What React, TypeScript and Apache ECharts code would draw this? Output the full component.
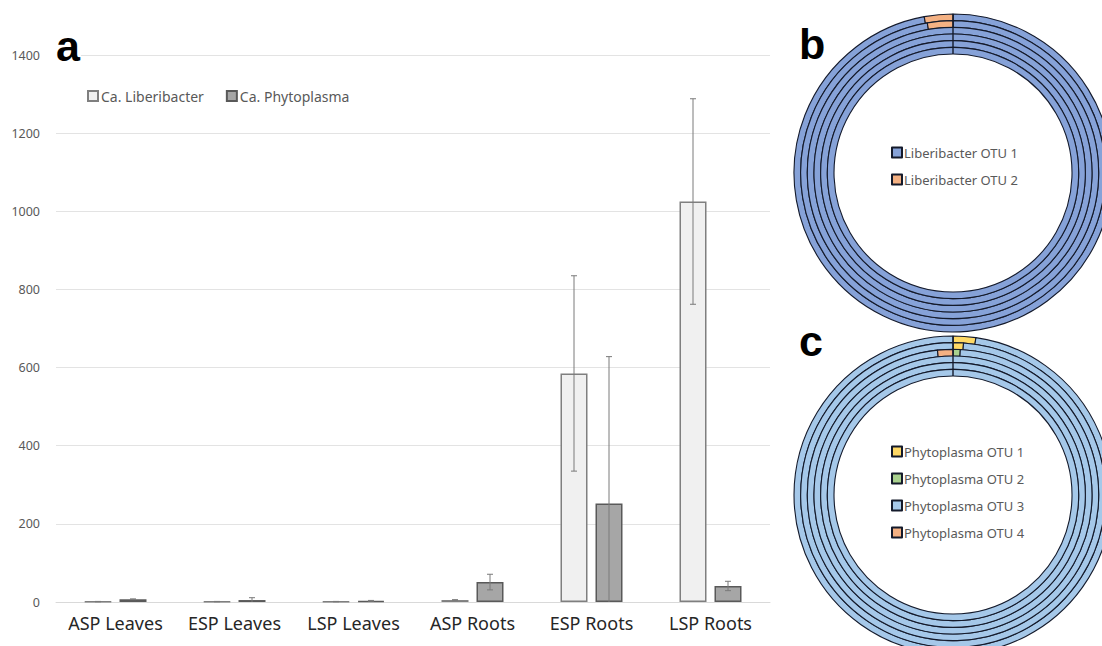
import React, { useEffect, useRef } from "react";
import * as echarts from "echarts";

// Panel a: mean read counts per sample group
const categories = ["ASP Leaves", "ESP Leaves", "LSP Leaves", "ASP Roots", "ESP Roots", "LSP Roots"];
const liberibacter = [1, 1, 1, 5, 585, 1025];
const liberibacterErr = [0.5, 0.5, 0.5, 1, 250, 263];
const phytoplasma = [7, 5, 3, 51, 252, 41];
const phytoplasmaErr = [1, 6, 1, 20, 376, 12];
const yMax = 1400;
const yInterval = 200;

// Panel b: OTU shares (%) per ring, outermost ring first
const libOtuNames = ["Liberibacter OTU 1", "Liberibacter OTU 2"];
const libRings = [
  [97.1, 2.9],
  [97.3, 2.7],
  [100, 0],
  [100, 0],
  [100, 0],
  [100, 0],
];

// Panel c: OTU shares (%) per ring, outermost ring first
const phyOtuNames = ["Phytoplasma OTU 1", "Phytoplasma OTU 2", "Phytoplasma OTU 3", "Phytoplasma OTU 4"];
const phyRings = [
  [2.3, 0, 97.7, 0],
  [1.1, 0, 98.9, 0],
  [0, 0.8, 97.5, 1.7],
  [0, 0, 100, 0],
  [0, 0, 100, 0],
  [0, 0, 100, 0],
];

const FONT = "Noto Sans";
const libColors = ["#86a2d8", "#f4b183"];
const phyColors = ["#ffd966", "#a9d18e", "#a5c8e9", "#f4b183"];
const ringBorder = "#141a2b";

const BAR_W = 27;
const BAR_GAP = 8;

function donut(center: number[], names: string[], colors: string[], rings: number[][]) {
  const outer = 159;
  const inner = 119;
  const step = (outer - inner) / rings.length;
  return rings.map((ring, k) => ({
    type: "pie",
    silent: true,
    center,
    radius: [outer - (k + 1) * step, outer - k * step],
    startAngle: 90,
    clockwise: true,
    avoidLabelOverlap: false,
    label: { show: false },
    labelLine: { show: false },
    emphasis: { disabled: true },
    itemStyle: { borderColor: ringBorder, borderWidth: 1.1 },
    data: ring
      .map((v, i) => ({ name: names[i], value: v, itemStyle: { color: colors[i] } }))
      .filter((d) => d.value > 0),
  }));
}

function errorSeries(values: number[], errs: number[], offset: number, color: string) {
  return {
    type: "custom",
    silent: true,
    z: 5,
    data: values.map((v, i) => [i, Math.max(0, v - errs[i]), v + errs[i], v - errs[i] >= 0 ? 1 : 0]),
    encode: { x: 0, y: [1, 2] },
    renderItem: (_params: any, api: any) => {
      const i = api.value(0);
      const lo = api.coord([i, api.value(1)]);
      const hi = api.coord([i, api.value(2)]);
      const x = hi[0] + offset;
      const cap = 3;
      const children: any[] = [
        { type: "line", shape: { x1: x, y1: hi[1], x2: x, y2: lo[1] }, style: { stroke: color, lineWidth: 1 } },
        { type: "line", shape: { x1: x - cap, y1: hi[1], x2: x + cap, y2: hi[1] }, style: { stroke: color, lineWidth: 1 } },
      ];
      if (api.value(3) === 1) {
        children.push({
          type: "line",
          shape: { x1: x - cap, y1: lo[1], x2: x + cap, y2: lo[1] },
          style: { stroke: color, lineWidth: 1 },
        });
      }
      return { type: "group", children };
    },
  };
}

export default function App() {
  const ref = useRef<HTMLDivElement>(null);

  useEffect(() => {
    if (!ref.current) return;
    const chart = echarts.init(ref.current, undefined, { renderer: "svg" });
    const half = (BAR_W + BAR_GAP) / 2;
    const bCenter = [953, 173];
    const cCenter = [953, 495];
    const panelLetter = (text: string, left: number, top: number) => ({
      type: "text",
      left,
      top,
      z: 100,
      style: {
        text,
        fontSize: 43,
        fontWeight: "bold",
        fontFamily: "Liberation Sans",
        fill: "#000",
        backgroundColor: "#ffffff",
        padding: [0, 1, 0, 1],
      },
    });

    chart.setOption({
      animation: false,
      backgroundColor: "#ffffff",
      textStyle: { fontFamily: FONT },
      grid: { left: 56, right: 332, top: 55, bottom: 44 },
      xAxis: {
        type: "category",
        data: categories,
        axisLine: { lineStyle: { color: "#d9d9d9", width: 1 } },
        axisTick: { show: false },
        axisLabel: { color: "#262626", fontSize: 18, fontFamily: FONT, margin: 12, interval: 0 },
      },
      yAxis: {
        type: "value",
        min: 0,
        max: yMax,
        interval: yInterval,
        axisLine: { show: false },
        axisTick: { show: false },
        axisLabel: {
          color: "#595959",
          fontSize: 12.5,
          fontFamily: FONT,
          margin: 16,
          formatter: (v: number) => String(v),
        },
        splitLine: { lineStyle: { color: "#e3e3e3", width: 1 } },
      },
      legend: [
        {
          data: ["Ca. Liberibacter", "Ca. Phytoplasma"],
          left: 87,
          top: 89,
          padding: 0,
          icon: "rect",
          itemWidth: 10,
          itemHeight: 10,
          itemGap: 22,
          selectedMode: false,
          textStyle: { color: "#595959", fontSize: 14, fontFamily: FONT, padding: [0, 0, 0, -2] },
        },
        {
          data: libOtuNames,
          left: 891,
          top: 146,
          padding: 0,
          orient: "vertical",
          icon: "rect",
          itemWidth: 10,
          itemHeight: 10,
          itemGap: 14,
          selectedMode: false,
          textStyle: { color: "#595959", fontSize: 13, fontFamily: FONT, padding: [0, 0, 0, -3] },
        },
        {
          data: phyOtuNames,
          left: 891,
          top: 445,
          padding: 0,
          orient: "vertical",
          icon: "rect",
          itemWidth: 10,
          itemHeight: 10,
          itemGap: 14,
          selectedMode: false,
          textStyle: { color: "#595959", fontSize: 13, fontFamily: FONT, padding: [0, 0, 0, -3] },
        },
      ],
      series: [
        {
          name: "Ca. Liberibacter",
          type: "bar",
          data: liberibacter,
          barWidth: BAR_W,
          barGap: `${(BAR_GAP / BAR_W) * 100}%`,
          itemStyle: { color: "#f0f0f0", borderColor: "#7f7f7f", borderWidth: 1.5 },
          emphasis: { disabled: true },
        },
        {
          name: "Ca. Phytoplasma",
          type: "bar",
          data: phytoplasma,
          barWidth: BAR_W,
          itemStyle: { color: "#a6a6a6", borderColor: "#595959", borderWidth: 1.5 },
          emphasis: { disabled: true },
        },
        errorSeries(liberibacter, liberibacterErr, -half, "#7a7a7a"),
        errorSeries(phytoplasma, phytoplasmaErr, half, "#7a7a7a"),
        ...donut(bCenter, libOtuNames, libColors, libRings),
        ...donut(cCenter, phyOtuNames, phyColors, phyRings),
      ],
      graphic: [
        panelLetter("a", 55, 24),
        panelLetter("b", 798, 22),
        panelLetter("c", 798, 319),
        {
          type: "line",
          z: 100,
          shape: { x1: bCenter[0], y1: bCenter[1] - 159, x2: bCenter[0], y2: bCenter[1] - 119 },
          style: { stroke: ringBorder, lineWidth: 1.4 },
        },
        {
          type: "line",
          z: 100,
          shape: { x1: cCenter[0], y1: cCenter[1] - 159, x2: cCenter[0], y2: cCenter[1] - 119 },
          style: { stroke: ringBorder, lineWidth: 1.4 },
        },
      ],
    });
    return () => chart.dispose();
  }, []);

  return (
    <div
      ref={ref}
      style={{ position: "fixed", left: 0, top: 0, width: 1102, height: 646, background: "#ffffff" }}
    />
  );
}
